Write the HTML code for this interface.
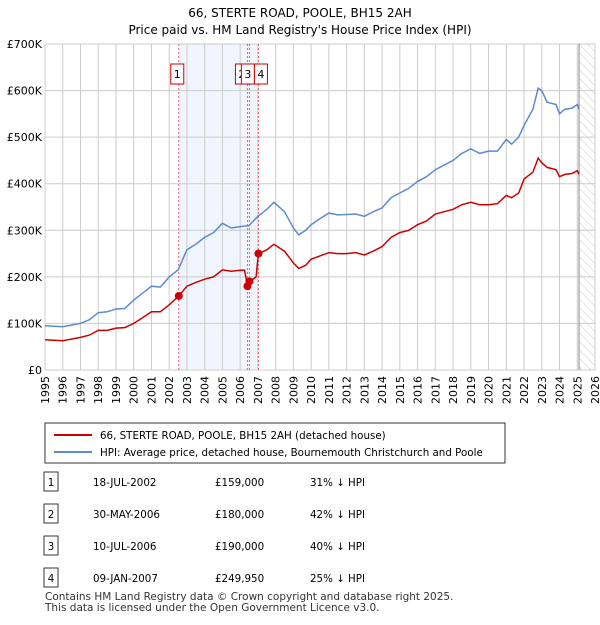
<!DOCTYPE html>
<html><head><meta charset="utf-8"><style>
body{margin:0;background:#fff;font-family:"Liberation Sans","DejaVu Sans",sans-serif;}
svg text{font-family:"DejaVu Sans","Liberation Sans",sans-serif;}
</style></head><body>
<svg width="600" height="620" viewBox="0 0 600 620" xmlns="http://www.w3.org/2000/svg">
<defs><pattern id="hatch" width="6" height="6" patternUnits="userSpaceOnUse" patternTransform="rotate(-45)"><line x1="0" y1="0" x2="0" y2="6" stroke="#ccc" stroke-width="1"/></pattern></defs>
<text x="300" y="17" text-anchor="middle" font-size="12">66, STERTE ROAD, POOLE, BH15 2AH</text>
<text x="300" y="34" text-anchor="middle" font-size="12">Price paid vs. HM Land Registry's House Price Index (HPI)</text>
<g id="grid"></g><g id="plot"></g>
<g>
<rect x="45" y="423" width="460" height="40" fill="#fff" stroke="#333"/>
<line x1="54" y1="435" x2="92" y2="435" stroke="#cc0000" stroke-width="2"/>
<text x="100" y="439" font-size="10.3">66, STERTE ROAD, POOLE, BH15 2AH (detached house)</text>
<line x1="54" y1="452" x2="92" y2="452" stroke="#5b8bd0" stroke-width="2"/>
<text x="100" y="456" font-size="10.3">HPI: Average price, detached house, Bournemouth Christchurch and Poole</text>
</g>
<g id="table" font-size="10.3"></g>
<text x="45" y="600" font-size="10.5" fill="#333">Contains HM Land Registry data © Crown copyright and database right 2025.</text>
<text x="45" y="611" font-size="10.5" fill="#333">This data is licensed under the Open Government Licence v3.0.</text>
</svg>
<script>
const hpiT=[1995,1996,1997,1997.5,1998,1998.5,1999,1999.5,2000,2000.5,2001,2001.5,2002,2002.5,2003,2003.5,2004,2004.5,2005,2005.5,2006,2006.5,2007,2007.5,2007.9,2008.5,2009,2009.3,2009.7,2010,2010.5,2011,2011.5,2012,2012.5,2013,2013.5,2014,2014.5,2015,2015.5,2016,2016.5,2017,2017.5,2018,2018.5,2019,2019.5,2020,2020.5,2021,2021.3,2021.7,2022,2022.5,2022.8,2023,2023.3,2023.8,2024,2024.3,2024.7,2025,2025.1];
const hpiV=[95,93,100,108,123,125,131,132,150,165,180,178,200,215,258,270,285,295,315,305,308,310,330,345,360,340,305,290,300,312,325,337,333,334,335,330,340,348,370,380,390,405,415,430,440,450,465,475,465,470,470,495,485,500,525,560,605,600,575,570,550,560,562,570,560];
const priceT=[1995,1996,1997,1997.5,1998,1998.5,1999,1999.5,2000,2000.5,2001,2001.5,2002,2002.54,2003,2003.5,2004,2004.5,2005,2005.5,2006,2006.25,2006.41,2006.52,2006.9,2007.03,2007.5,2007.9,2008.5,2009,2009.3,2009.7,2010,2010.5,2011,2011.5,2012,2012.5,2013,2013.5,2014,2014.5,2015,2015.5,2016,2016.5,2017,2017.5,2018,2018.5,2019,2019.5,2020,2020.5,2021,2021.3,2021.7,2022,2022.5,2022.8,2023,2023.3,2023.8,2024,2024.3,2024.7,2025,2025.1];
const priceV=[65,63,70,75,85,85,90,91,100,112,125,125,140,159,180,188,195,200,215,212,214,214,180,190,200,250,258,270,255,230,218,225,238,245,252,250,250,252,247,255,265,285,295,300,312,320,335,340,345,355,360,355,355,357,375,370,380,410,425,455,445,435,430,415,420,422,428,420];
const saleLabels=["1","2","3","4"];
const saleT=[2002.54,2006.41,2006.52,2007.03];
const saleV=[159,180,190,249.95];
const saleDates=["18-JUL-2002","30-MAY-2006","10-JUL-2006","09-JAN-2007"];
const salePrices=["£159,000","£180,000","£190,000","£249,950"];
const saleDiffs=["31% ↓ HPI","42% ↓ HPI","40% ↓ HPI","25% ↓ HPI"];
const yTicks=[0,100,200,300,400,500,600,700];
const yTickLabels=["£0","£100K","£200K","£300K","£400K","£500K","£600K","£700K"];
const xYears=[1995,1996,1997,1998,1999,2000,2001,2002,2003,2004,2005,2006,2007,2008,2009,2010,2011,2012,2013,2014,2015,2016,2017,2018,2019,2020,2021,2022,2023,2024,2025,2026];

const X0=45,X1=595,Y0=370,Y1=44;
const x=t=>X0+(t-1995)/(2026-1995)*(X1-X0);
const y=v=>Y0-v/700*(Y0-Y1);
const NS="http://www.w3.org/2000/svg";
function mk(tag,attrs,parent,text){const e=document.createElementNS(NS,tag);for(const k in attrs)e.setAttribute(k,attrs[k]);if(text!==undefined)e.textContent=text;parent.appendChild(e);return e;}
const grid=document.getElementById('grid'),plot=document.getElementById('plot'),tbl=document.getElementById('table');
let r=mk('rect',{x:x(saleT[0]),y:Y1,width:x(saleT[3])-x(saleT[0]),height:Y0-Y1,fill:'#f1f5fd'},grid);


let h=mk('rect',{x:x(2025.1),y:Y1,width:X1-x(2025.1),height:Y0-Y1,fill:'url(#hatch)'},grid);


xYears.forEach(t=>{
  let l=mk('line',{x1:x(t),x2:x(t),y1:Y1,y2:Y0,stroke:'#ccc'},grid);
  
  
  let tx=mk('text',{x:0,y:0,'font-size':11,'text-anchor':'end',transform:`translate(${x(t)+4},${Y0+6}) rotate(-90)`},grid,String(t));
  
  
});
yTicks.forEach((v,i)=>{
  let l=mk('line',{x1:X0,x2:X1,y1:y(v),y2:y(v),stroke:'#ccc'},grid);
  
  
  let tx=mk('text',{x:X0-3,y:y(v)+4,'font-size':11,'text-anchor':'end'},grid,yTickLabels[i]);
  
  
});
let cur=mk('line',{x1:x(2025.1),x2:x(2025.1),y1:Y1,y2:Y0,stroke:'#888'},grid);


saleT.forEach((t,i)=>{
  let l=mk('line',{x1:x(t),x2:x(t),y1:Y1,y2:Y0,stroke:'#f06060','stroke-dasharray':'2,2'},plot);
  
  
});
const pts=(T,V)=>T.map((t,i)=>x(t).toFixed(1)+','+y(V[i]).toFixed(1)).join(' ');
let hp=mk('polyline',{points:pts(hpiT,hpiV),fill:'none',stroke:'#5b8bd0','stroke-width':1.5},plot);


let pp=mk('polyline',{points:pts(priceT,priceV),fill:'none',stroke:'#cc0000','stroke-width':1.5},plot);


const boxOff=[-1,-5,-1,3];
saleT.forEach((t,i)=>{
  let c=mk('circle',{cx:x(t),cy:y(saleV[i]),r:4,fill:'#cc0000'},plot);
  
  
  const bx=x(t)+boxOff[i]-7;
  let b=mk('rect',{x:bx,y:64,width:13,height:20,fill:'#fff',stroke:'#cc0000'},plot);
  
  
  let tx=mk('text',{x:bx+6.5,y:78,'font-size':11,'text-anchor':'middle'},plot,saleLabels[i]);
  
  
});
saleLabels.forEach((s,i)=>{
  const yy=482+i*32;
  let b=mk('rect',{x:44,y:yy-10,width:14,height:19,fill:'#fff',stroke:'#333'},tbl);
  
  
  let t0=mk('text',{x:51,y:yy+4,'text-anchor':'middle'},tbl,s);
  
  
  let t1=mk('text',{x:93,y:yy+4},tbl,saleDates[i]);
  
  
  let t2=mk('text',{x:215,y:yy+4},tbl,salePrices[i]);
  
  
  let t3=mk('text',{x:310,y:yy+4},tbl,saleDiffs[i]);
  
  
});
</script>
</body></html>
